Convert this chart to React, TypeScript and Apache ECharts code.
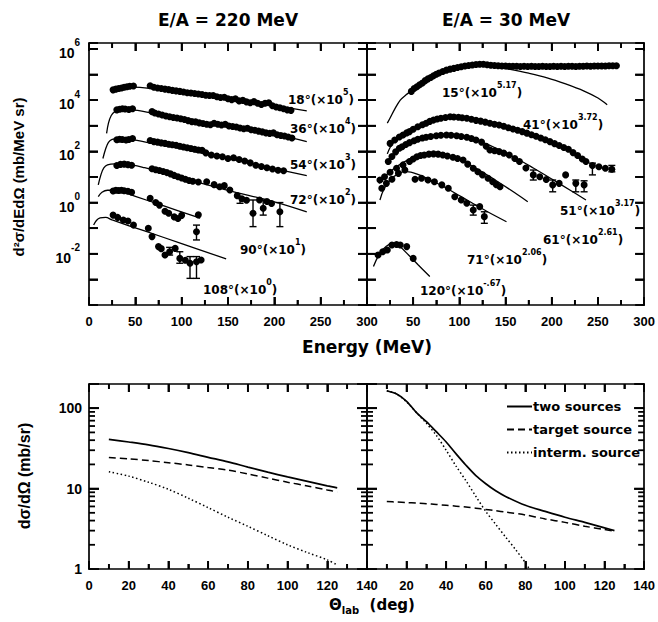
import React, { useEffect, useRef } from "react";
import * as echarts from "echarts";

const FONT = "'Liberation Sans', Arial, Helvetica, sans-serif";
const WIDE = "'DejaVu Sans', 'Liberation Sans', sans-serif";

// ---------------- Top panels: energy spectra ----------------
// Each pair is [energy (MeV), log10 of the scaled d2sigma/dEdOmega]
// E/A = 220 MeV
const pts18: number[][] = [[26,4.40],[29,4.43],[32,4.45],[35,4.47],[38,4.50],[41,4.52],[44,4.54],[48,4.55],[66,4.56],[70,4.50],[74,4.47],[78,4.45],[82,4.43],[86,4.41],[90,4.38],[94,4.36],[98,4.34],[102,4.32],[106,4.29],[110,4.28],[114,4.26],[118,4.24],[122,4.22],[126,4.19],[130,4.18],[134,4.18],[138,4.13],[142,4.10],[146,4.11],[150,4.05],[154,4.02],[158,4.05],[162,3.97],[166,3.99],[170,3.93],[174,3.90],[178,3.94],[182,3.88],[186,3.83],[190,3.88],[194,3.90],[198,3.78],[202,3.73],[206,3.70],[210,3.66],[214,3.62],[218,3.60]];
const fit18: number[][] = [[24,4.3],[27,4.42],[32,4.48],[40,4.52],[55,4.5],[70,4.44],[100,4.3],[150,4.05],[200,3.78],[235,3.58]];
const pts36: number[][] = [[30,3.62],[33,3.64],[36,3.66],[39,3.65],[43,3.63],[47,3.66],[68,3.55],[71,3.50],[75,3.46],[79,3.42],[83,3.38],[87,3.35],[91,3.32],[95,3.30],[99,3.27],[103,3.24],[107,3.20],[111,3.16],[115,3.15],[119,3.11],[123,3.09],[127,3.06],[131,3.04],[135,3.10],[139,3.06],[143,3.03],[147,3.06],[151,2.99],[155,2.97],[159,2.95],[163,2.91],[167,2.88],[171,2.90],[175,2.84],[179,2.82],[183,2.79],[187,2.76],[191,2.72],[195,2.70],[199,2.72],[203,2.65],[207,2.62],[211,2.60],[215,2.56],[219,2.52]];
const fit36: number[][] = [[19,2.7],[21,3.1],[24,3.4],[28,3.55],[35,3.62],[45,3.62],[70,3.48],[100,3.28],[150,2.98],[200,2.67],[235,2.38]];
const pts54: number[][] = [[30,2.45],[33,2.47],[36,2.46],[40,2.44],[43,2.46],[47,2.50],[66,2.42],[70,2.38],[74,2.36],[78,2.33],[82,2.31],[86,2.28],[90,2.26],[94,2.24],[98,2.20],[102,2.17],[106,2.14],[110,2.11],[114,2.08],[118,2.05],[122,2.04],[126,1.94],[132,1.86],[138,1.82],[144,1.79],[150,1.72],[156,1.75],[162,1.68],[168,1.62],[174,1.55],[180,1.46],[186,1.41],[192,1.36],[198,1.31],[204,1.26],[210,1.24]];
const fit54: number[][] = [[15,1.72],[18,2.1],[21,2.35],[25,2.47],[32,2.5],[45,2.47],[70,2.3],[100,2.1],[150,1.72],[200,1.33],[235,1.05]];
const pts72: number[][] = [[30,1.45],[34,1.49],[38,1.50],[42,1.48],[46,1.46],[68,1.32],[72,1.28],[76,1.25],[80,1.21],[84,1.17],[88,1.12],[92,1.06],[96,1.01],[100,0.96],[104,0.91],[108,0.86],[112,0.83],[118,0.80],[127,0.81],[135,0.70],[141,0.62],[146,0.66],[152,0.49],[160,0.27],[165,0.15],[170,0.09],[177,-0.42],[184,0.10],[188,-0.22],[192,0.04],[197,-0.04],[206,-0.36]];
const fit72: number[][] = [[10,0.69],[13,1.1],[16,1.35],[20,1.47],[28,1.51],[40,1.5],[60,1.36],[100,0.97],[150,0.48],[200,0.03],[235,-0.36]];
const pts90: number[][] = [[26,0.45],[29,0.48],[32,0.47],[35,0.48],[38,0.46],[42,0.44],[46,0.40],[66,0.17],[72,0.0],[76,-0.10],[82,-0.34],[86,-0.42],[92,-0.56],[96,-0.62],[100,-0.50],[116,-1.14],[118,-0.48]];
const fit90: number[][] = [[10,0.23],[14,0.4],[20,0.48],[30,0.48],[50,0.24],[80,-0.12],[120,-0.61]];
const pts108: number[][] = [[26,-0.49],[31,-0.58],[37,-0.68],[42,-0.72],[48,-0.88],[64,-1.00],[68,-1.33],[75,-1.72],[78,-1.80],[82,-2.05],[87,-1.92],[93,-1.79],[98,-2.18],[104,-2.25],[109,-2.37],[116,-2.31],[121,-2.24]];
const fit108: number[][] = [[5,-0.88],[8,-0.7],[12,-0.6],[18,-0.58],[25,-0.68],[60,-1.11],[100,-1.6],[148,-2.2]];
// [energy, low, high] error bars
const err220: number[][] = [[163,-0.03,0.23],[177,-0.94,0.1],[188,-0.49,0.1],[206,-0.94,0.0],[116,-1.46,-0.88],[87,-2.05,-1.75],[98,-2.37,-1.92],[109,-2.96,-2.11],[116,-2.96,-2.11]];

// E/A = 30 MeV
const pts15: number[][] = [[48,4.34],[51,4.45],[54,4.52],[57,4.60],[60,4.67],[63,4.76],[66,4.83],[69,4.88],[72,4.95],[75,5.01],[78,5.06],[82,5.12],[86,5.17],[90,5.21],[94,5.24],[98,5.27],[102,5.30],[106,5.33],[110,5.35],[114,5.37],[118,5.39],[122,5.40],[126,5.40],[130,5.38],[134,5.36],[138,5.35],[142,5.34],[146,5.33],[150,5.33],[154,5.32],[158,5.32],[162,5.32],[166,5.31],[170,5.32],[174,5.31],[178,5.32],[182,5.31],[186,5.31],[190,5.32],[194,5.31],[198,5.31],[202,5.32],[206,5.31],[210,5.32],[214,5.31],[218,5.32],[222,5.32],[226,5.31],[230,5.32],[234,5.32],[238,5.33],[242,5.32],[246,5.33],[250,5.33],[254,5.33],[258,5.33],[262,5.34],[266,5.34],[270,5.34]];
const fit15: number[][] = [[22,3.1],[25,3.3],[30,3.65],[36,4.0],[42,4.2],[48,4.36],[55,4.55],[65,4.8],[75,5.0],[85,5.15],[95,5.26],[105,5.33],[115,5.37],[125,5.37],[135,5.33],[155,5.2],[175,5.05],[195,4.87],[215,4.63],[235,4.35],[250,4.08],[260,3.82]];
const pts41: number[][] = [[25,2.31],[30,2.44],[35,2.56],[39,2.64],[43,2.72],[46,2.77],[50,2.86],[55,2.96],[60,3.04],[64,3.10],[68,3.17],[72,3.22],[76,3.26],[80,3.29],[85,3.32],[90,3.35],[94,3.34],[99,3.33],[103,3.31],[108,3.29],[113,3.25],[118,3.21],[123,3.18],[128,3.14],[133,3.10],[138,3.06],[143,3.03],[148,2.98],[153,2.92],[158,2.87],[163,2.82],[168,2.77],[173,2.71],[178,2.65],[183,2.59],[188,2.52],[193,2.45],[198,2.38],[203,2.30],[208,2.23],[213,2.15],[218,2.08],[223,1.95],[228,1.84],[233,1.70],[237,1.60],[244,1.45],[251,1.40],[258,1.34],[265,1.30]];
const fit41: number[][] = [[22,1.9],[25,2.15],[30,2.4],[37,2.6],[46,2.78],[60,3.04],[75,3.25],[90,3.34],[100,3.33],[120,3.2],[140,3.04],[160,2.85],[180,2.62],[200,2.34],[220,2.02],[240,1.6]];
const pts51: number[][] = [[23,1.60],[27,1.80],[31,1.98],[35,2.12],[38,2.18],[42,2.27],[46,2.34],[51,2.41],[55,2.47],[60,2.52],[64,2.55],[69,2.58],[75,2.61],[80,2.63],[86,2.64],[91,2.63],[97,2.61],[102,2.58],[108,2.55],[113,2.50],[118,2.44],[124,2.36],[129,2.20],[133,2.05],[138,2.02],[143,1.99],[148,1.93],[154,1.86],[160,1.72],[165,1.60],[172,1.35],[180,1.08],[187,1.01],[194,0.90],[201,0.69],[208,0.75],[215,1.08],[226,0.75],[235,0.69]];
const fit51: number[][] = [[21,1.5],[25,1.75],[30,1.95],[40,2.22],[50,2.4],[60,2.52],[70,2.6],[85,2.65],[100,2.6],[120,2.42],[140,2.12],[160,1.76],[180,1.35],[200,0.92],[220,0.48],[237,0.1]];
const pts61: number[][] = [[14,0.88],[19,1.01],[25,1.18],[32,1.34],[39,1.47],[46,1.60],[50,1.70],[54,1.79],[58,1.84],[62,1.86],[67,1.89],[72,1.90],[77,1.89],[82,1.86],[87,1.82],[93,1.77],[98,1.72],[104,1.66],[109,1.50],[115,1.34],[120,1.20],[125,1.08],[131,0.95],[136,0.81],[140,0.70],[144,0.62]];
const fit61: number[][] = [[13,0.75],[20,1.05],[30,1.35],[40,1.58],[50,1.76],[60,1.86],[70,1.9],[80,1.88],[90,1.8],[100,1.68],[120,1.3],[140,0.85],[160,0.38],[174,0.03]];
const pts71: number[][] = [[16,0.56],[21,0.75],[27,0.91],[34,1.14],[41,1.27],[52,0.91],[59,0.95],[66,0.88],[73,0.81],[81,0.69],[88,0.56],[95,0.23],[102,0.10],[108,-0.03],[115,-0.29],[122,-0.16],[127,-0.55]];
const fit71: number[][] = [[14,0.1],[18,0.5],[25,0.88],[35,1.15],[43,1.21],[55,1.1],[70,0.86],[90,0.48],[110,0.06],[130,-0.35],[151,-0.75]];
const pts120: number[][] = [[12,-2.05],[17,-1.92],[22,-1.85],[27,-1.66],[32,-1.64],[36,-1.66],[43,-1.72],[50,-2.18]];
const fit120: number[][] = [[7,-2.5],[12,-2.1],[18,-1.8],[24,-1.63],[29,-1.59],[35,-1.7],[45,-2.05],[55,-2.42],[68,-2.89]];
const err30: number[][] = [[244,1.08,1.54],[265,1.2,1.45],[180,0.88,1.27],[201,0.42,0.88],[226,0.42,0.88],[235,0.42,0.85],[115,-0.49,-0.1],[127,-0.81,-0.36]];

const leftAngles = ["18", "36", "54", "72", "90", "108"];
const leftExps = ["5", "4", "3", "2", "1", "0"];
const rightAngles = ["15", "41", "51", "61", "71", "120"];
const rightExps = ["5.17", "3.72", "3.17", "2.61", "2.06", "-.67"];

// ---------------- Bottom panels: angular distributions (mb/sr) ----------------
const thetaL = [10, 20, 30, 40, 50, 60, 70, 80, 90, 100, 110, 120, 125];
const twoL = [41, 38, 35, 31.5, 28, 24.5, 21.5, 18.5, 16, 14, 12.3, 10.8, 10.2];
const targetL = [24.4, 23.5, 22.3, 21, 19.7, 18.3, 17, 15.2, 13.5, 12, 10.8, 9.6, 9.1];
const intermL = [16.2, 14.3, 12, 9.8, 7.6, 5.8, 4.4, 3.4, 2.6, 2.0, 1.6, 1.3, 1.12];

const thetaR = [10, 15, 20, 25, 30, 35, 40, 45, 50, 55, 60, 65, 70, 80, 90, 100, 110, 120, 125];
const twoR = [165, 150, 122, 88, 68, 51, 38, 27, 19.5, 14.5, 11.5, 9.4, 8.0, 6.2, 5.2, 4.4, 3.8, 3.25, 3.0];
const targetR = [6.9, 6.8, 6.7, 6.6, 6.5, 6.35, 6.2, 6.05, 5.9, 5.7, 5.5, 5.3, 5.1, 4.7, 4.2, 3.8, 3.4, 3.1, 2.95];
const thetaIntR = [10, 15, 20, 25, 30, 35, 40, 45, 50, 55, 60, 65, 70, 75, 80, 82];
const intermR = [165, 150, 120, 88, 65, 46, 30, 19, 12.5, 8, 5.2, 3.6, 2.5, 1.75, 1.2, 1.0];

// tick positions: [value, length in px]
const energyTicks = [25, 50, 75, 100, 125, 150, 175, 200, 225, 250, 275].map((v) => [v, v % 50 === 0 ? 8 : 5]);
const thetaTicks = [10, 20, 30, 40, 50, 60, 70, 80, 90, 100, 110, 120, 130].map((v) => [v, v % 20 === 0 ? 8 : 5]);
const decadeTicks = [-3, -2, -1, 0, 1, 2, 3, 4, 5, 6].map((v) => [v, 9]);
const logTicks = [2, 3, 4, 5, 6, 7, 8, 9, 10, 20, 30, 40, 50, 60, 70, 80, 90, 100].map((v) => [v, v === 10 || v === 100 ? 10 : 6]);
const legendNames = ["two sources", "target source", "interm. source"];

const zip = (xs: number[], ys: number[]) => xs.map((x, i) => [x, ys[i]]);

function makeOption(): any {
  const black = "#000";
  const ls = (w: number) => ({ color: black, width: w });
  const lbl = { color: black, fontFamily: FONT, fontWeight: "bold", fontSize: 13 };
  const grids = [
    { left: 89, top: 43, width: 278, height: 262 },
    { left: 367, top: 43, width: 279, height: 262 },
    { left: 89, top: 384, width: 278, height: 185 },
    { left: 367, top: 384, width: 279, height: 185 },
  ];
  const xExt = [[0, 300], [0, 300], [0, 140], [0, 140]];
  const yExt = [[-4, 6.23], [-4, 6.23], [1, 200], [1, 200]];
  const xAxis: any[] = [];
  const yAxis: any[] = [];
  grids.forEach((_g, i) => {
    const upper = i < 2;
    const hideZero = i % 2 === 1;
    const base = {
      type: "value", gridIndex: i, min: xExt[i][0], max: xExt[i][1], interval: upper ? 50 : 20,
      splitLine: { show: false }, minorSplitLine: { show: false },
      axisLine: { show: true, onZero: false, lineStyle: ls(1.7) },
      axisTick: { show: true, inside: true, length: 8, lineStyle: ls(1.8) },
      minorTick: { show: true, splitNumber: 2, length: 5, lineStyle: ls(1.6) },
    };
    xAxis.push({ ...base, position: "bottom", axisLabel: { ...lbl, margin: 10, formatter: (v: number) => (hideZero && v === 0 ? "" : String(v)) } });
    xAxis.push({ ...base, position: "top", axisLabel: { show: false } });
    if (upper) {
      const yb = {
        type: "value", gridIndex: i, min: yExt[i][0], max: yExt[i][1], interval: 1,
        splitLine: { show: false },
        axisLine: { show: true, onZero: false, lineStyle: ls(1.7) },
        axisTick: { show: true, inside: true, length: 9, lineStyle: ls(1.8) },
      };
      yAxis.push({
        ...yb, position: "left",
        axisLabel: i === 0 ? {
          show: true, margin: 9, color: black,
          formatter: (v: number) => {
            const r = Math.round(v);
            return Math.abs(v - r) < 1e-6 && r % 2 === 0 && r > -4 && r <= 6 ? `{b|10}{s|${r}}` : "";
          },
          rich: {
            b: { fontFamily: FONT, fontWeight: "bold", fontSize: 14, lineHeight: 22, verticalAlign: "bottom", color: black },
            s: { fontFamily: FONT, fontWeight: "bold", fontSize: 10, lineHeight: 10, verticalAlign: "top", color: black },
          },
        } : { show: false },
      });
      yAxis.push({ ...yb, position: "right", axisLabel: { show: false } });
    } else {
      const yb = {
        type: "log", logBase: 10, gridIndex: i, min: yExt[i][0], max: yExt[i][1],
        splitLine: { show: false }, minorTick: { show: false },
        axisLine: { show: true, onZero: false, lineStyle: ls(1.7) },
        axisTick: { show: true, inside: true, length: 10, lineStyle: ls(1.8) },
      };
      yAxis.push({
        ...yb, position: "left",
        axisLabel: i === 2 ? {
          ...lbl, fontSize: 14, margin: 7,
          formatter: (v: number) => {
            const l = Math.log10(v);
            return Math.abs(l - Math.round(l)) < 1e-6 && v <= 100 ? String(Math.round(v)) : "";
          },
        } : { show: false },
      });
      yAxis.push({ ...yb, position: "right", axisLabel: { show: false } });
    }
  });

  // frame ticks drawn as thin rect symbols placed through the axes' scales
  const tickScatter = (gi: number) => {
    const items: any[] = [];
    const xt = gi < 2 ? energyTicks : thetaTicks;
    const yt = gi < 2 ? decadeTicks : logTicks;
    xt.forEach(([v, len]) => {
      items.push({ value: [v, yExt[gi][0]], symbolSize: [1.8, len], symbolOffset: [0, -len / 2] });
      items.push({ value: [v, yExt[gi][1]], symbolSize: [1.8, len], symbolOffset: [0, len / 2] });
    });
    yt.forEach(([v, len]) => {
      items.push({ value: [xExt[gi][0], v], symbolSize: [len, 1.8], symbolOffset: [len / 2, 0] });
      items.push({ value: [xExt[gi][1], v], symbolSize: [len, 1.8], symbolOffset: [-len / 2, 0] });
    });
    return {
      type: "scatter", xAxisIndex: gi * 2, yAxisIndex: gi * 2, data: items, symbol: "rect",
      itemStyle: { color: black, opacity: 1 }, silent: true, clip: false, z: 4,
    };
  };

  const scatter = (data: number[][], ax: number) => ({
    type: "scatter", xAxisIndex: ax, yAxisIndex: ax, data, symbol: "circle", symbolSize: 7,
    itemStyle: { color: black, opacity: 1 }, silent: true, z: 3,
  });
  const fit = (data: number[][], ax: number) => ({
    type: "line", xAxisIndex: ax, yAxisIndex: ax, data, symbol: "none", showSymbol: false, smooth: 0.35,
    lineStyle: { color: black, width: 1.3 }, silent: true, z: 2,
  });
  const errors = (data: number[][], ax: number) => ({
    type: "custom", xAxisIndex: ax, yAxisIndex: ax, data, silent: true, z: 3,
    encode: { x: 0, y: [1, 2] },
    renderItem: (_p: any, api: any) => {
      const e = api.value(0);
      const a = api.coord([e, api.value(1)]);
      const b = api.coord([e, api.value(2)]);
      const st = { stroke: black, lineWidth: 1.4 };
      return {
        type: "group", children: [
          { type: "line", shape: { x1: a[0], y1: a[1], x2: b[0], y2: b[1] }, style: st },
          { type: "line", shape: { x1: a[0] - 3.5, y1: a[1], x2: a[0] + 3.5, y2: a[1] }, style: st },
          { type: "line", shape: { x1: b[0] - 3.5, y1: b[1], x2: b[0] + 3.5, y2: b[1] }, style: st },
        ],
      };
    },
  });
  const curve = (name: string, data: number[][], ax: number, type: any, w: number) => ({
    type: "line", name, xAxisIndex: ax, yAxisIndex: ax, data, symbol: "none", showSymbol: false, smooth: 0.3,
    color: black, lineStyle: { color: black, width: w, type }, silent: true, z: 2,
  });

  const series: any[] = [
    scatter(pts18, 0), fit(fit18, 0), scatter(pts36, 0), fit(fit36, 0), scatter(pts54, 0), fit(fit54, 0),
    scatter(pts72, 0), fit(fit72, 0), scatter(pts90, 0), fit(fit90, 0), scatter(pts108, 0), fit(fit108, 0),
    errors(err220, 0),
    scatter(pts15, 2), fit(fit15, 2), scatter(pts41, 2), fit(fit41, 2), scatter(pts51, 2), fit(fit51, 2),
    scatter(pts61, 2), fit(fit61, 2), scatter(pts71, 2), fit(fit71, 2), scatter(pts120, 2), fit(fit120, 2),
    errors(err30, 2),
    tickScatter(0), tickScatter(1), tickScatter(2), tickScatter(3),
    curve(legendNames[0], zip(thetaL, twoL), 4, "solid", 1.7),
    curve(legendNames[1], zip(thetaL, targetL), 4, [7, 4], 1.5),
    curve(legendNames[2], zip(thetaL, intermL), 4, [1.5, 2.5], 1.5),
    curve(legendNames[0], zip(thetaR, twoR), 6, "solid", 1.7),
    curve(legendNames[1], zip(thetaR, targetR), 6, [7, 4], 1.5),
    curve(legendNames[2], zip(thetaIntR, intermR), 6, [1.5, 2.5], 1.5),
  ];

  const annRich = {
    b: { fontFamily: WIDE, fontWeight: "bold", fontSize: 12, lineHeight: 18, verticalAlign: "bottom", fill: black, color: black },
    s: { fontFamily: WIDE, fontWeight: "bold", fontSize: 8, lineHeight: 8, verticalAlign: "top", fill: black, color: black },
  };
  const annPos = [[288, 97], [290, 126], [290, 162], [290, 197], [240, 247], [203, 287], [442, 90], [523, 122], [560, 208], [543, 237], [467, 257], [420, 288]];
  const angles = [...leftAngles, ...rightAngles];
  const exps = [...leftExps, ...rightExps];
  const annotations = annPos.map((p, i) => ({
    type: "text", x: p[0], y: p[1], silent: true,
    style: {
      text: `{b|${angles[i]}°(×10}{s|${exps[i]}}{b|)}`, rich: annRich,
      align: "left", textAlign: "left", verticalAlign: "middle", textVerticalAlign: "middle", fill: black,
    },
  }));
  const text = (x: number, y: number, t: string, font: string, rot = 0) => ({
    type: "text", x, y, rotation: rot, silent: true,
    style: { text: t, font, fill: black, align: "center", textAlign: "center", verticalAlign: "middle", textVerticalAlign: "middle" },
  });

  const graphic = [
    text(228, 20, "E/A = 220 MeV", `bold 17px ${WIDE}`),
    text(506, 20, "E/A = 30 MeV", `bold 17px ${WIDE}`),
    text(18, 177, "d²σ/dEdΩ (mb/MeV sr)", `bold 15px ${FONT}`, Math.PI / 2),
    text(367, 347, "Energy (MeV)", `bold 17px ${WIDE}`),
    text(24, 476, "dσ/dΩ (mb/sr)", `bold 16px ${FONT}`, Math.PI / 2),
    {
      type: "text", x: 372, y: 606, silent: true,
      style: {
        text: "{a|Θ}{u|lab}{a|  (deg)}",
        rich: {
          a: { fontFamily: WIDE, fontWeight: "bold", fontSize: 15, lineHeight: 18, verticalAlign: "top", fill: black, color: black },
          u: { fontFamily: WIDE, fontWeight: "bold", fontSize: 10, lineHeight: 9, verticalAlign: "bottom", fill: black, color: black },
        },
        align: "center", textAlign: "center", verticalAlign: "middle", textVerticalAlign: "middle", fill: black,
      },
    },
    ...annotations,
  ];

  return {
    animation: false,
    grid: grids.map((g) => ({ ...g })),
    xAxis, yAxis, series, graphic,
    legend: {
      data: legendNames, orient: "vertical", left: 501, top: 395, itemWidth: 25, itemHeight: 14, itemGap: 10,
      selectedMode: false,
      itemStyle: { opacity: 0, borderWidth: 0 },
      textStyle: { fontFamily: WIDE, fontWeight: "bold", fontSize: 13, color: black, padding: [0, 0, 0, -4] },
    },
  };
}

export default function App() {
  const ref = useRef<HTMLDivElement>(null);
  useEffect(() => {
    if (!ref.current) return;
    const chart = echarts.init(ref.current, undefined, { renderer: "svg" });
    chart.setOption(makeOption());
    return () => chart.dispose();
  }, []);
  return <div ref={ref} style={{ position: "absolute", left: 0, top: 0, width: 658, height: 622, background: "#fff" }} />;
}
